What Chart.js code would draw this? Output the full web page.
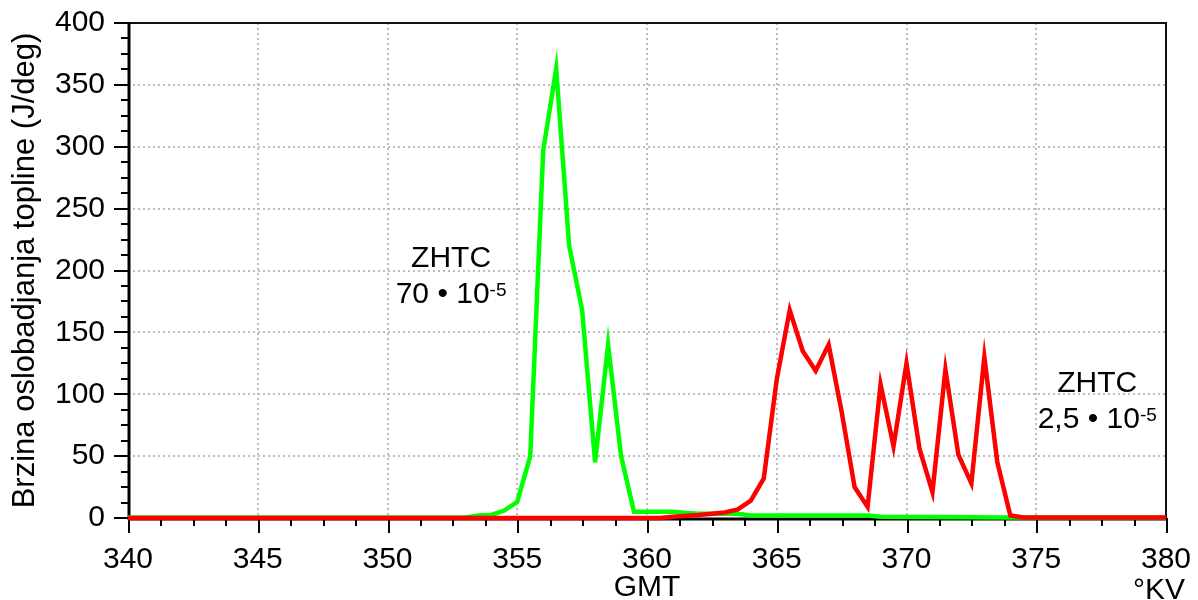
<!DOCTYPE html>
<html><head><meta charset="utf-8">
<script src="https://cdn.jsdelivr.net/npm/chart.js@4.4.1/dist/chart.umd.min.js"></script>
<style>html,body{margin:0;padding:0;background:#fff;}#wrap{width:1198px;height:600px;position:relative;}</style>
</head><body><div id="wrap"><canvas id="c" width="1198" height="600"></canvas></div>
<script>
// ---- data ----
const greenX = [340, 353, 353.5, 354, 354.5, 355, 355.5, 356, 356.5, 357, 357.5, 358, 358.5, 359, 359.5, 360, 360.5, 361, 361.5, 362, 362.5, 363, 363.5, 364, 368.5, 369, 374, 380];
const greenY = [0.5, 0.5, 2, 2.5, 6, 13, 50, 297, 363, 220, 168, 45, 140, 50, 5, 5, 5, 5, 4, 3.5, 3.5, 3.5, 3.5, 2, 2, 1, 0.5, 0.5];
const redX = [340, 360.5, 361, 362, 363, 363.5, 364, 364.5, 365, 365.5, 366, 366.5, 367, 367.5, 368, 368.5, 369, 369.5, 370, 370.5, 371, 371.5, 372, 372.5, 373, 373.5, 374, 374.5, 380];
const redY = [0, 0, 1, 2.5, 4.5, 7, 14, 32, 112, 168, 135, 119, 140, 86, 25, 9, 108, 58, 125, 56, 21, 120, 51, 28, 130, 45, 2, 0.5, 0.5];
const xTickLabels = [340, 345, 350, 355, 360, 365, 370, 375, 380];
const yTickLabels = [0, 50, 100, 150, 200, 250, 300, 350, 400];
const xMinorPerMajor = 4;
const yMinorPerMajor = 4;
const xTitleText = 'GMT';
const xUnitText = '°KV';
const yTitleText = 'Brzina oslobadjanja topline (J/deg)';
const noteTitles = ['ZHTC', 'ZHTC'];
const noteBases = ['70 • 10', '2,5 • 10'];
const noteExps = ['-5', '-5'];
const noteAnchorX = [352.45, 377.35];
const noteAnchorY = [211.5, 110.5];

const FONT = "'Liberation Sans', Arial, sans-serif";
const pts = (xs, ys) => xs.map((x, i) => ({x, y: ys[i]}));

const decor = {
  id: 'decor',
  beforeDatasetsDraw(chart) {
    const {ctx, chartArea: a, scales: {x, y}} = chart;
    ctx.save();
    ctx.strokeStyle = '#bcbcbc';
    ctx.lineWidth = 2;
    ctx.setLineDash([2, 3]);
    xTickLabels.forEach(v => {
      if (v === xTickLabels[0] || v === xTickLabels[xTickLabels.length - 1]) return;
      const px = Math.round(x.getPixelForValue(v)) + 0;
      ctx.beginPath(); ctx.moveTo(px, a.top); ctx.lineTo(px, a.bottom); ctx.stroke();
    });
    yTickLabels.forEach(v => {
      if (v === yTickLabels[0] || v === yTickLabels[yTickLabels.length - 1]) return;
      const py = Math.round(y.getPixelForValue(v)) + 0;
      ctx.beginPath(); ctx.moveTo(a.left, py); ctx.lineTo(a.right, py); ctx.stroke();
    });
    ctx.restore();
    // frame (top / right thin, left / bottom thick)
    ctx.save();
    ctx.strokeStyle = '#111';
    ctx.lineWidth = 2;
    ctx.beginPath(); ctx.moveTo(a.left, a.top); ctx.lineTo(a.right, a.top); ctx.lineTo(a.right, a.bottom); ctx.stroke();
    ctx.strokeStyle = '#000';
    ctx.lineWidth = 3;
    ctx.beginPath(); ctx.moveTo(a.left + 1, a.top - 1); ctx.lineTo(a.left + 1, a.bottom + 2); ctx.stroke();
    ctx.beginPath(); ctx.moveTo(a.left, a.bottom + 1); ctx.lineTo(a.right + 1, a.bottom + 1); ctx.stroke();
    // ticks
    ctx.lineWidth = 2;
    for (let i = 0; i < xTickLabels.length; i++) {
      const v = xTickLabels[i];
      const px = Math.round(x.getPixelForValue(v)) + 1;
      ctx.beginPath(); ctx.moveTo(px, a.bottom); ctx.lineTo(px, a.bottom + 15); ctx.stroke();
      if (i < xTickLabels.length - 1) {
        const step = (xTickLabels[i + 1] - v) / xMinorPerMajor;
        for (let k = 1; k < xMinorPerMajor; k++) {
          const mx = Math.round(x.getPixelForValue(v + k * step)) + 1;
          ctx.beginPath(); ctx.moveTo(mx, a.bottom); ctx.lineTo(mx, a.bottom + 8); ctx.stroke();
        }
      }
    }
    for (let i = 0; i < yTickLabels.length; i++) {
      const v = yTickLabels[i];
      const py = Math.round(y.getPixelForValue(v));
      ctx.beginPath(); ctx.moveTo(a.left - 14, py); ctx.lineTo(a.left, py); ctx.stroke();
      if (i < yTickLabels.length - 1) {
        const step = (yTickLabels[i + 1] - v) / yMinorPerMajor;
        for (let k = 1; k < yMinorPerMajor; k++) {
          const my = Math.round(y.getPixelForValue(v + k * step));
          ctx.beginPath(); ctx.moveTo(a.left - 7, my); ctx.lineTo(a.left, my); ctx.stroke();
        }
      }
    }
    ctx.restore();
  },
  afterDraw(chart) {
    const {ctx, chartArea: a, scales: {x, y}} = chart;
    ctx.save();
    ctx.fillStyle = '#000';
    ctx.textBaseline = 'alphabetic';
    for (let i = 0; i < noteTitles.length; i++) {
      const cx = x.getPixelForValue(noteAnchorX[i]);
      const cy = y.getPixelForValue(noteAnchorY[i]);
      ctx.font = `30px ${FONT}`;
      ctx.textAlign = 'center';
      ctx.fillText(noteTitles[i], cx, cy + 11);
      const wBase = ctx.measureText(noteBases[i]).width;
      ctx.font = `19px ${FONT}`;
      const wExp = ctx.measureText(noteExps[i]).width;
      const sx = cx - (wBase + wExp) / 2;
      ctx.textAlign = 'left';
      ctx.font = `30px ${FONT}`;
      ctx.fillText(noteBases[i], sx, cy + 47);
      ctx.font = `19px ${FONT}`;
      ctx.fillText(noteExps[i], sx + wBase, cy + 40);
    }
    ctx.font = `30px ${FONT}`;
    ctx.textAlign = 'center';
    ctx.fillText(xUnitText, a.right - 7, 599);
    ctx.restore();
  }
};

new Chart(document.getElementById('c'), {
  type: 'line',
  data: {
    datasets: [
      { label: 'ZHTC 2,5·10⁻⁵', data: pts(redX, redY), borderColor: '#ff0000', borderWidth: 4.5, pointRadius: 0, tension: 0, fill: false, clip: 6, order: 0 },
      { label: 'ZHTC 70·10⁻⁵', data: pts(greenX, greenY), borderColor: '#00ff00', borderWidth: 4.5, pointRadius: 0, tension: 0, fill: false, clip: 6, order: 1 }
    ]
  },
  options: {
    responsive: false,
    animation: false,
    devicePixelRatio: 1,
    layout: { padding: { top: 23, right: 32, left: 0, bottom: 0 } },
    plugins: { legend: { display: false }, tooltip: { enabled: false } },
    scales: {
      x: {
        type: 'linear', min: 340, max: 380,
        afterFit(s) { s.height = 82; s.paddingLeft = 0; s.paddingRight = 0; },
        afterBuildTicks(s) { s.ticks = xTickLabels.map(v => ({value: v})); },
        grid: { display: false, drawTicks: false },
        border: { display: false },
        ticks: { color: '#000', font: { family: FONT, size: 30 }, padding: 24, maxRotation: 0, autoSkip: false },
        title: { display: true, text: xTitleText, color: '#000', font: { family: FONT, size: 30, lineHeight: 0.8 }, padding: 0 }
      },
      y: {
        type: 'linear', min: 0, max: 400,
        afterFit(s) { s.width = 128; s.paddingTop = 0; s.paddingBottom = 0; },
        afterBuildTicks(s) { s.ticks = yTickLabels.map(v => ({value: v})); },
        grid: { display: false, drawTicks: false },
        border: { display: false },
        ticks: { color: '#000', font: { family: FONT, size: 30 }, padding: 23 },
        title: { display: true, text: yTitleText, color: '#000', font: { family: FONT, size: 31, lineHeight: 1.2 }, padding: { top: 7, bottom: 0 } }
      }
    }
  },
  plugins: [decor]
});
</script></body></html>
